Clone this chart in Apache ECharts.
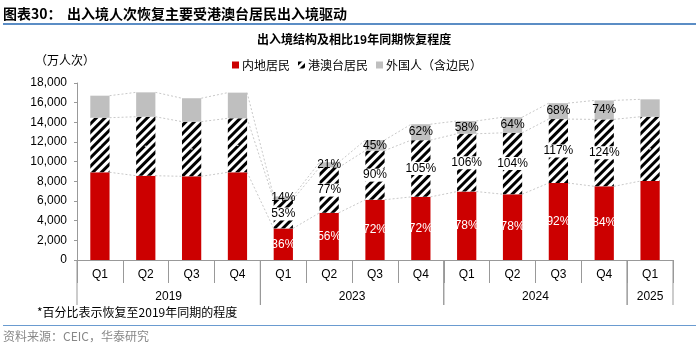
<!DOCTYPE html>
<html>
<head>
<meta charset="utf-8">
<script src="https://cdn.jsdelivr.net/npm/echarts@6/dist/echarts.min.js"></script>
<style>
  html, body { margin: 0; padding: 0; background: #fff; }
  #chart { width: 699px; height: 351px; }
</style>
</head>
<body>
<div id="chart"></div>
<script>
// categories and groups
const quarters = ['Q1', 'Q2', 'Q3', 'Q4', 'Q1', 'Q2', 'Q3', 'Q4', 'Q1', 'Q2', 'Q3', 'Q4', 'Q1'];
const years = ['2019', '2023', '2024', '2025'];
const yearSpans = [[0, 3], [4, 7], [8, 11], [12, 12]];

// 万人次
const mainland = [8920, 8570, 8510, 8920, 3210, 4800, 6130, 6420, 6960, 6690, 7830, 7490, 8030];
const hkmt = [5550, 6000, 5560, 5490, 2940, 4620, 5000, 5770, 5880, 6240, 6500, 6810, 6540];
const foreign = [2240, 2480, 2380, 2610, 310, 520, 1070, 1620, 1300, 1590, 1620, 1930, 1770];

// 恢复至2019年同期的程度
const mainlandPct = ['', '', '', '', '36%', '56%', '72%', '72%', '78%', '78%', '92%', '84%', ''];
const hkmtPct = ['', '', '', '', '53%', '77%', '90%', '105%', '106%', '104%', '117%', '124%', ''];
const foreignPct = ['', '', '', '', '14%', '21%', '45%', '62%', '58%', '64%', '68%', '74%', ''];

const yTicks = [0, 18000, 2000];

const FONT_NUM = 'Liberation Sans, Arial, Noto Sans CJK SC, sans-serif';
const FONT_CJK = 'Noto Sans CJK SC, sans-serif';
const BAR_RATIO = 0.42;

// stacked tops for the dotted series lines
const tops = [[], [], []];
for (let i = 0; i < quarters.length; i++) {
  tops[0].push(mainland[i]);
  tops[1].push(mainland[i] + hkmt[i]);
  tops[2].push(mainland[i] + hkmt[i] + foreign[i]);
}
const linkData = [];
tops.forEach(t => {
  for (let i = 0; i < t.length - 1; i++) linkData.push([i, t[i], t[i + 1]]);
});

const chart = echarts.init(document.getElementById('chart'));

const option = {
  animation: false,
  textStyle: { fontFamily: FONT_NUM },
  grid: { left: 77, right: 26, top: 83, bottom: 91, containLabel: false },
  legend: {
    left: 227,
    top: 54,
    itemWidth: 7,
    itemHeight: 7,
    itemGap: 8,
    icon: 'rect',
    textStyle: { fontFamily: FONT_CJK, fontSize: 12, color: '#000', padding: [0, 0, 0, -2] },
    data: ['内地居民', '港澳台居民', '外国人（含边民）']
  },
  xAxis: {
    type: 'category',
    data: quarters,
    axisLine: { lineStyle: { color: '#999', width: 1 } },
    axisTick: { show: true, length: 23, interval: 0, lineStyle: { color: '#999' } },
    axisLabel: { color: '#000', fontSize: 12, margin: 9, interval: 0, fontFamily: FONT_NUM }
  },
  yAxis: {
    type: 'value',
    min: yTicks[0],
    max: yTicks[1],
    interval: yTicks[2],
    splitLine: { show: false },
    axisLine: { show: true, lineStyle: { color: '#999' } },
    axisTick: { show: true, length: 3, lineStyle: { color: '#999' } },
    axisLabel: {
      color: '#000',
      fontSize: 12,
      margin: 10,
      fontFamily: FONT_NUM,
      formatter: v => v.toLocaleString('en-US')
    }
  },
  series: [
    {
      name: 'links',
      type: 'custom',
      z: 1,
      silent: true,
      encode: { x: 0, y: 1 },
      data: linkData,
      renderItem: function (params, api) {
        const half = api.size([1, 0])[0] * BAR_RATIO / 2;
        const p1 = api.coord([api.value(0), api.value(1)]);
        const p2 = api.coord([api.value(0) + 1, api.value(2)]);
        return {
          type: 'line',
          shape: { x1: p1[0] + half, y1: p1[1], x2: p2[0] - half, y2: p2[1] },
          style: { stroke: '#c8c8c8', lineWidth: 1, lineDash: [2, 2] }
        };
      }
    },
    {
      name: '内地居民',
      type: 'bar',
      stack: 'total',
      barWidth: (BAR_RATIO * 100) + '%',
      z: 2,
      itemStyle: { color: '#CC0000' },
      label: {
        show: true,
        position: 'inside',
        color: '#fff',
        fontSize: 12,
        fontFamily: FONT_NUM,
        formatter: p => mainlandPct[p.dataIndex]
      },
      data: mainland
    },
    {
      name: '港澳台居民',
      type: 'bar',
      stack: 'total',
      z: 2,
      itemStyle: {
        color: '#fff',
        decal: {
          symbol: 'rect',
          symbolSize: 1,
          color: '#000',
          dashArrayX: [1, 0],
          dashArrayY: [2.6, 2.2],
          rotation: -Math.PI / 4
        }
      },
      label: {
        show: true,
        position: 'inside',
        color: '#000',
        fontSize: 12,
        fontFamily: FONT_NUM,
        backgroundColor: '#fff',
        padding: [1, 1, 0, 1],
        formatter: p => hkmtPct[p.dataIndex]
      },
      data: hkmt
    },
    {
      name: '外国人（含边民）',
      type: 'bar',
      stack: 'total',
      z: 2,
      itemStyle: { color: '#BFBFBF' },
      label: {
        show: true,
        position: 'inside',
        color: '#000',
        fontSize: 12,
        fontFamily: FONT_NUM,
        formatter: p => foreignPct[p.dataIndex]
      },
      data: foreign
    },
    {
      name: 'years',
      type: 'custom',
      silent: true,
      clip: false,
      encode: { x: [0, 1], y: 2 },
      data: yearSpans.map(s => [s[0], s[1], 0]),
      renderItem: function (params, api) {
        const band = api.size([1, 0])[0];
        const a = api.coord([api.value(0), 0]);
        const b = api.coord([api.value(1), 0]);
        const x0 = a[0] - band / 2;
        const x1 = b[0] + band / 2;
        const y0 = a[1];
        const line = { stroke: '#999', lineWidth: 1 };
        return {
          type: 'group',
          children: [
            { type: 'line', shape: { x1: x0, y1: y0, x2: x0, y2: y0 + 45 }, style: line },
            { type: 'line', shape: { x1: x1, y1: y0, x2: x1, y2: y0 + 45 }, style: line },
            {
              type: 'text',
              style: {
                x: (x0 + x1) / 2,
                y: y0 + 37,
                text: years[params.dataIndex],
                align: 'center',
                verticalAlign: 'middle',
                fill: '#000',
                font: '12px ' + FONT_NUM
              }
            }
          ]
        };
      }
    }
  ],
  graphic: [
    {
      type: 'text', left: 3, top: 7,
      style: { text: '图表30：', font: 'bold 14px ' + FONT_CJK, fill: '#000' }
    },
    {
      type: 'text', left: 67, top: 7,
      style: { text: '出入境人次恢复主要受港澳台居民出入境驱动', font: 'bold 14px ' + FONT_CJK, fill: '#000' }
    },
    {
      type: 'rect', left: 3, top: 23,
      shape: { width: 693, height: 2 },
      style: { fill: '#5B8DC5' }
    },
    {
      type: 'text', left: 257, top: 33,
      style: { text: '出入境结构及相比19年同期恢复程度', font: 'bold 12px ' + FONT_CJK, fill: '#000' }
    },
    {
      type: 'text', left: 35, top: 54,
      style: { text: '（万人次）', font: '12px ' + FONT_CJK, fill: '#000' }
    },
    {
      type: 'text', left: 37, top: 306,
      style: { text: '*百分比表示恢复至2019年同期的程度', font: '12px ' + FONT_CJK, fill: '#000' }
    },
    {
      type: 'rect', left: 3, top: 325,
      shape: { width: 693, height: 1 },
      style: { fill: '#6A9BD0' }
    },
    {
      type: 'text', left: 3, top: 330,
      style: { text: '资料来源：CEIC，华泰研究', font: '12px ' + FONT_CJK, fill: '#888' }
    }
  ]
};

chart.setOption(option);
window.addEventListener('resize', () => chart.resize());
</script>
</body>
</html>
